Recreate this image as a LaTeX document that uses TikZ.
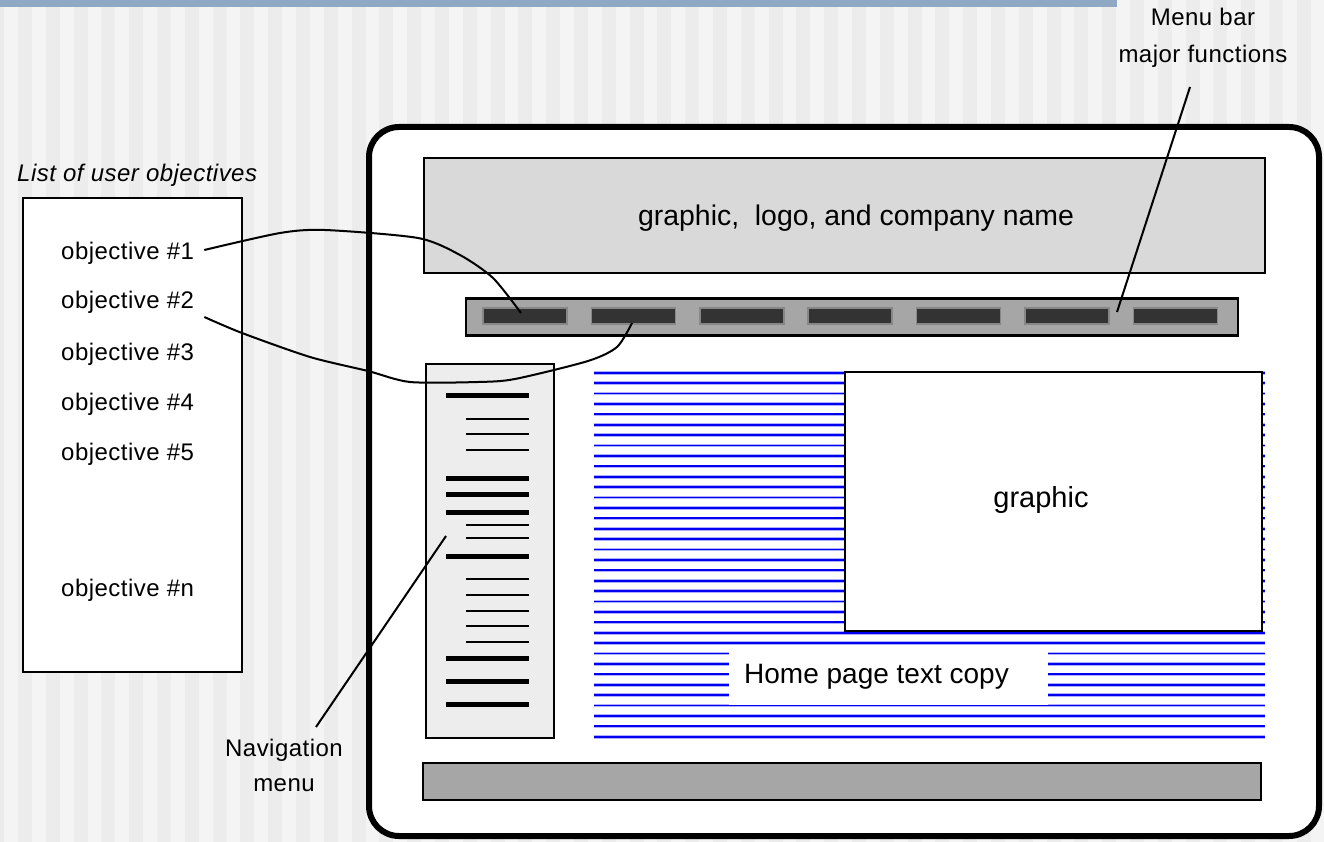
\documentclass[tikz,border=0pt]{standalone}
\usepackage{fontspec}
\setmainfont{Liberation Sans}
\definecolor{bglight}{RGB}{244,244,244}
\definecolor{bgdark}{RGB}{236,236,236}
\definecolor{topbar}{RGB}{143,168,196}
\definecolor{hdrgray}{RGB}{217,217,217}
\definecolor{bargray}{RGB}{166,166,166}
\definecolor{navgray}{RGB}{237,237,237}
\definecolor{btndark}{RGB}{51,51,51}
\definecolor{btnedge}{RGB}{135,135,135}
\definecolor{copyblue}{RGB}{0,0,240}
\definecolor{copyhalo}{RGB}{175,175,255}
\newfontfamily\trackedfont[LetterSpace=2]{Liberation Sans}
\begin{document}
\begin{tikzpicture}[x=1pt,y=-1pt,
  frame/.style={draw=black,line width=6pt,fill=white,rounded corners=30pt},
  panel/.style={draw=black,line width=2pt},
  button/.style={fill=btndark,draw=btnedge,line width=1.5pt},
  thickrule/.style={line width=5pt},
  thinrule/.style={line width=2pt},
  connector/.style={draw=black,line width=2pt},
  txt/.style={inner sep=0pt,font=\trackedfont\fontsize{24}{28}\selectfont},
  bigtxt/.style={inner sep=0pt,font=\fontsize{28.4}{34}\selectfont}]
\useasboundingbox (0,0) rectangle (1324,842);

% striped backdrop and top band
\fill[bglight] (0,0) rectangle (1324,842);
\foreach \i in {0,...,48}{
  \fill[bgdark] ({-9.8+27.8*\i},0) rectangle ({4.1+27.8*\i},842);
}
\fill[topbar] (0,0) rectangle (1117,7);

% objectives list
\node[txt,font=\trackedfont\fontsize{24}{28}\selectfont\itshape,anchor=west] (listtitle) at (17,175) {List of user objectives};
\draw[panel,fill=white] (23,198) rectangle (242,672);
\node[txt,anchor=west] (o1) at (61,253) {objective \#1};
\node[txt,anchor=west] (o2) at (61,302) {objective \#2};
\node[txt,anchor=west] (o3) at (61,354) {objective \#3};
\node[txt,anchor=west] (o4) at (61,404) {objective \#4};
\node[txt,anchor=west] (o5) at (61,454) {objective \#5};
\node[txt,anchor=west] (on) at (61,590) {objective \#n};

% page frame
\draw[frame] (369,127) rectangle (1319,836);

% header
\node[panel,fill=hdrgray,minimum width=841pt,minimum height=114pt,inner sep=0pt] (header) at (844.5,215.5) {};
\node[bigtxt] (headertext) at (856,218) {graphic,\ \ logo, and company name};

% menu bar with buttons
\node[panel,line width=2.5pt,fill=bargray,minimum width=772pt,minimum height=37pt,inner sep=0pt] (menubar) at (852,317) {};
\foreach \k in {1,...,7}{
  \node[button,minimum width=84pt,minimum height=16pt,inner sep=0pt] (b\k) at ({525+108.4*(\k-1)},316) {};
}

% navigation column
\node[panel,fill=navgray,minimum width=128pt,minimum height=374pt,inner sep=0pt] (nav) at (489.5,550.5) {};
\foreach \y in {395,478,494,512,556,658,681,704}{
  \draw[thickrule] (446,\y) -- (529,\y);
}
\foreach \y in {419,434,450,525,538,579,595,611,626,642}{
  \draw[thinrule] (466,\y) -- (529,\y);
}

% body copy rules
\foreach \i in {0,...,35}{
  \draw[copyhalo,line width=3.6pt] (594,{372.7+10.4*\i}) -- (1265,{372.7+10.4*\i});
  \draw[copyblue,line width=1.8pt] (594,{372.7+10.4*\i}) -- (1265,{372.7+10.4*\i});
}

% graphic block
\node[panel,fill=white,minimum width=417pt,minimum height=259pt,inner sep=0pt] (graphic) at (1053.5,501.5) {};
\node[bigtxt,font=\fontsize{29}{34}\selectfont] (graphictext) at (1041,500) {graphic};

% text copy label
\fill[white] (729,648) rectangle (1048,705);
\node[bigtxt,font=\fontsize{28}{33}\selectfont,anchor=west] (copy) at (744,677) {Home page text copy};

% footer bar
\node[panel,fill=bargray,minimum width=838pt,minimum height=37pt,inner sep=0pt] (footer) at (841.5,781.5) {};

% callout labels
\node[txt,align=center,font=\trackedfont\fontsize{24}{37}\selectfont] (menulbl) at (1203,38) {Menu bar\\major functions};
\node[txt,align=center,font=\trackedfont\fontsize{24}{35}\selectfont] (navlbl) at (284,765) {Navigation\\menu};

% anchor points for connectors
\coordinate (s1) at ([xshift=10pt,yshift=3pt]o1.east);
\coordinate (s2) at ([xshift=10pt,yshift=-15pt]o2.east);
\coordinate (m1) at (521,313);
\coordinate (m2) at (632,323);
\coordinate (mtip) at (1117,312);
\coordinate (mtop) at (1190,87);
\coordinate (ntip) at (446,536);
\coordinate (nbot) at (316,727);

% objective connectors
\draw[connector] plot[smooth,tension=0.45] coordinates
  {(s1) (280,233) (325,230) (418,238) (460,255) (493,278) (m1)};
\draw[connector] plot[smooth,tension=0.45] coordinates
  {(s2) (242,333) (310,357) (368,371) (410,382) (478,382) (515,379) (588,361) (617,347) (m2)};

% callout leaders
\draw[connector] (mtop) -- (mtip);
\draw[connector] (nbot) -- (ntip);
\end{tikzpicture}
\end{document}
